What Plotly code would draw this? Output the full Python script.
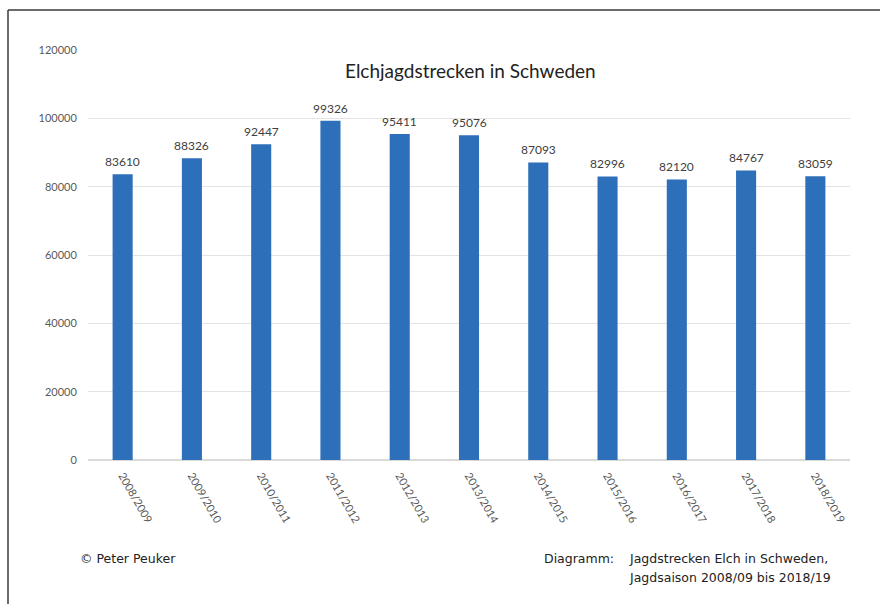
import plotly.graph_objects as go

seasons = ["2008/2009", "2009/2010", "2010/2011", "2011/2012", "2012/2013", "2013/2014",
           "2014/2015", "2015/2016", "2016/2017", "2017/2018", "2018/2019"]
harvest = [83610, 88326, 92447, 99326, 95411, 95076, 87093, 82996, 82120, 84767, 83059]
y_ticks = [0, 20000, 40000, 60000, 80000, 100000, 120000]

title_text = "Elchjagdstrecken in Schweden"
credit_text = "© Peter Peuker"
caption_label = "Diagramm:"
caption_line1 = "Jagdstrecken Elch in Schweden,"
caption_line2 = "Jagdsaison 2008/09 bis 2018/19"

W, H = 880, 604
L, R, T, B = 88, 30, 50, 144
pw, ph = W - L - R, H - T - B


def px(x):
    return (x - L) / pw


def py(y):
    return (H - B - y) / ph


fig = go.Figure()
fig.add_trace(go.Bar(
    x=seasons, y=harvest, width=0.29,
    marker=dict(color="#2e6fba", line=dict(width=0)),
    hoverinfo="skip",
))

value_labels = [
    dict(text=str(v), x=s, y=v, xref="x", yref="y", showarrow=False,
         xanchor="center", yanchor="bottom", yshift=3,
         font=dict(family="Lato", size=12, color="#404040"))
    for s, v in zip(seasons, harvest)
]

foot_font = dict(family="DejaVu Sans", size=12.5, color="#222222")

fig.update_layout(
    width=W, height=H,
    margin=dict(l=L, r=R, t=T, b=B),
    paper_bgcolor="white", plot_bgcolor="white",
    showlegend=False,
    font=dict(family="Lato", size=11, color="#595959"),
    xaxis=dict(tickangle=60, showgrid=False, zeroline=False, showline=False,
               ticks="outside", ticklen=4, tickcolor="rgba(0,0,0,0)",
               tickfont=dict(size=11, color="#595959")),
    yaxis=dict(range=[0, 120000], tickvals=y_ticks, ticktext=[str(v) for v in y_ticks],
               showgrid=True, gridcolor="#e3e3e3",
               gridwidth=1, zeroline=True, zerolinecolor="#d9d9d9", showline=False,
               ticks="outside", ticklen=8, tickcolor="rgba(0,0,0,0)",
               tickfont=dict(size=11, color="#595959")),
    annotations=value_labels + [
        dict(text=title_text, x=px(471), y=py(70), xref="paper", yref="paper",
             showarrow=False, xanchor="center", yanchor="middle",
             font=dict(family="Lato", size=19, color="#222222")),
        dict(text=credit_text, x=px(78), y=py(558), xref="paper", yref="paper",
             showarrow=False, xanchor="left", yanchor="middle", font=foot_font),
        dict(text=caption_label, x=px(542), y=py(558), xref="paper", yref="paper",
             showarrow=False, xanchor="left", yanchor="middle", font=foot_font),
        dict(text=caption_line1, x=px(627), y=py(558), xref="paper", yref="paper",
             showarrow=False, xanchor="left", yanchor="middle", font=foot_font),
        dict(text=caption_line2, x=px(627), y=py(577), xref="paper", yref="paper",
             showarrow=False, xanchor="left", yanchor="middle", font=foot_font),
    ],
    shapes=[
        dict(type="line", xref="paper", yref="paper", x0=px(8), x1=px(8), y0=py(10), y1=py(604),
             line=dict(color="#3a3a3a", width=1.5)),
        dict(type="line", xref="paper", yref="paper", x0=px(8), x1=px(880), y0=py(10), y1=py(10),
             line=dict(color="#3a3a3a", width=1.5)),
    ],
)

fig.write_html("out.html")
